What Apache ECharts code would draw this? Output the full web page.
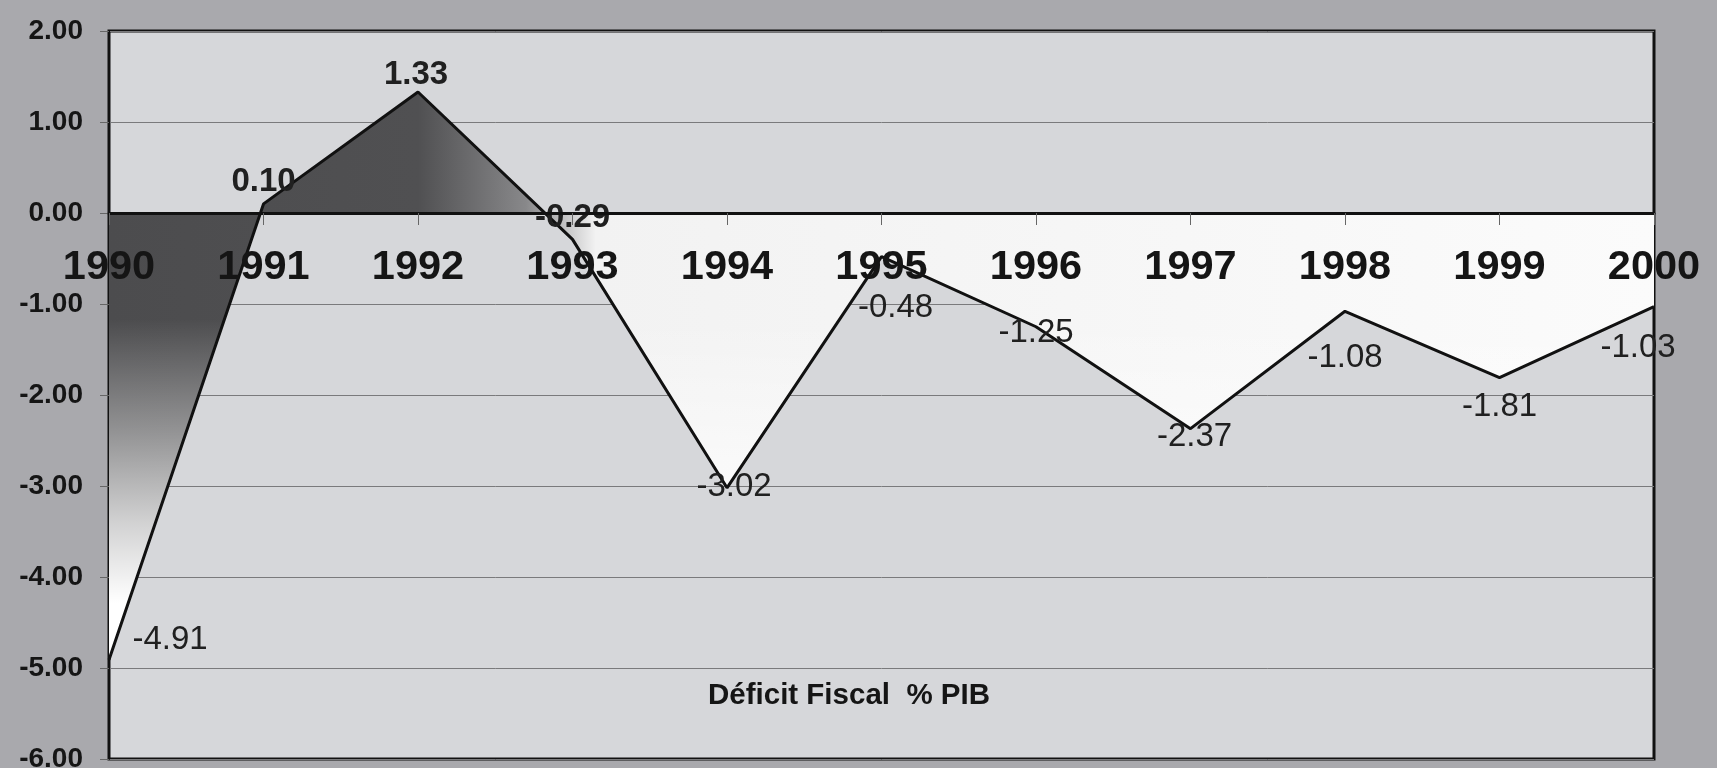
<!DOCTYPE html>
<html>
<head>
<meta charset="utf-8">
<title>Déficit Fiscal % PIB</title>
<script src="https://cdn.jsdelivr.net/npm/echarts@6/dist/echarts.min.js"></script>
<style>
  html, body { margin: 0; padding: 0; background: #a9a9ad; }
  #chart { width: 1717px; height: 768px; }
</style>
</head>
<body>
<div id="chart"></div>
<script>
// data
const years = ['1990', '1991', '1992', '1993', '1994', '1995', '1996', '1997', '1998', '1999', '2000']
const deficit = [-4.91, 0.10, 1.33, -0.29, -3.02, -0.48, -1.25, -2.37, -1.08, -1.81, -1.03]
const yTicks = { min: -6, max: 2, interval: 1 }

// where each value label sits, relative to its point (style only)
const labelOffsets = [[61, -20], [0, -22], [-2, -17], [0, -21], [7, -1], [14, 51], [0, 6], [4, 8], [0, 47], [0, 29], [-16, 41]]
const labelWeights = ['normal', 'bold', 'bold', 'bold', 'normal', 'normal', 'normal', 'normal', 'normal', 'normal', 'normal']

const font = 'Liberation Sans'
const inkColor = '#151515'
const gridTop = 31
const gridBottom = 9
const plotHeight = 768 - gridTop - gridBottom
// the category axis sits on the zero line
const zeroOffset = -plotHeight * (0 - yTicks.min) / (yTicks.max - yTicks.min)

const chart = echarts.init(document.getElementById('chart'))

// area-only layers (the filled wedge between the line and zero)
const areaLayer = (color, z) => ({
  type: 'line',
  data: deficit,
  symbol: 'none',
  silent: true,
  lineStyle: { width: 0, opacity: 0 },
  areaStyle: { origin: 0, color, opacity: 1 },
  z
})

chart.setOption({
  animation: false,
  backgroundColor: '#a9a9ad',
  title: {
    text: 'Déficit Fiscal  % PIB',
    left: 708,
    top: 681,
    padding: 0,
    textStyle: {
      fontFamily: font,
      fontSize: 29.5,
      fontWeight: 'bold',
      color: inkColor
    }
  },
  grid: {
    left: 109,
    right: 63,
    top: gridTop,
    bottom: gridBottom,
    containLabel: false,
    outerBoundsMode: 'none',
    show: true,
    backgroundColor: '#d6d7da',
    borderColor: '#111',
    borderWidth: 3
  },
  xAxis: {
    type: 'category',
    data: years,
    boundaryGap: false,
    position: 'bottom',
    offset: zeroOffset,
    axisLine: {
      onZero: false,
      lineStyle: { color: '#111', width: 3 }
    },
    axisTick: {
      show: true,
      length: 12,
      lineStyle: { color: '#666', width: 1 }
    },
    axisLabel: {
      interval: 0,
      margin: 34,
      fontFamily: font,
      fontSize: 41.5,
      fontWeight: 'bold',
      color: inkColor
    },
    splitLine: { show: false },
    z: 5
  },
  yAxis: {
    type: 'value',
    min: yTicks.min,
    max: yTicks.max,
    interval: yTicks.interval,
    axisLine: {
      show: true,
      lineStyle: { color: '#111', width: 2 }
    },
    axisTick: {
      show: true,
      length: 9,
      lineStyle: { color: '#666' }
    },
    axisLabel: {
      margin: 26,
      fontFamily: font,
      fontSize: 28,
      fontWeight: 'bold',
      color: inkColor,
      formatter: v => v.toFixed(2)
    },
    splitLine: {
      show: true,
      lineStyle: { color: '#7a7a7c', width: 1 }
    }
  },
  series: [
    // dark on the left, white from 1993 on
    areaLayer(new echarts.graphic.LinearGradient(0, 0, 1, 0, [
      { offset: 0, color: '#4c4c4e' },
      { offset: 0.2, color: '#505052' },
      { offset: 0.27, color: '#88888a' },
      { offset: 0.315, color: '#f2f2f2' },
      { offset: 1, color: '#fbfbfb' }
    ]), 1),
    // fades to white toward the bottom
    areaLayer(new echarts.graphic.LinearGradient(0, 0, 0, 1, [
      { offset: 0, color: 'rgba(255,255,255,0)' },
      { offset: 0.4, color: 'rgba(255,255,255,0)' },
      { offset: 0.6, color: 'rgba(255,255,255,0.4)' },
      { offset: 0.76, color: 'rgba(255,255,255,0.75)' },
      { offset: 0.9, color: 'rgba(255,255,255,1)' },
      { offset: 1, color: 'rgba(255,255,255,1)' }
    ]), 1),
    {
      type: 'line',
      data: deficit.map((v, i) => ({
        value: v,
        label: { offset: labelOffsets[i], fontWeight: labelWeights[i] }
      })),
      symbol: 'circle',
      symbolSize: 1,
      itemStyle: { color: '#111' },
      lineStyle: { color: '#111', width: 3 },
      label: {
        show: true,
        position: 'inside',
        fontFamily: font,
        fontSize: 33,
        color: '#202020',
        formatter: p => p.value.toFixed(2)
      },
      z: 3
    }
  ]
})
</script>
</body>
</html>
